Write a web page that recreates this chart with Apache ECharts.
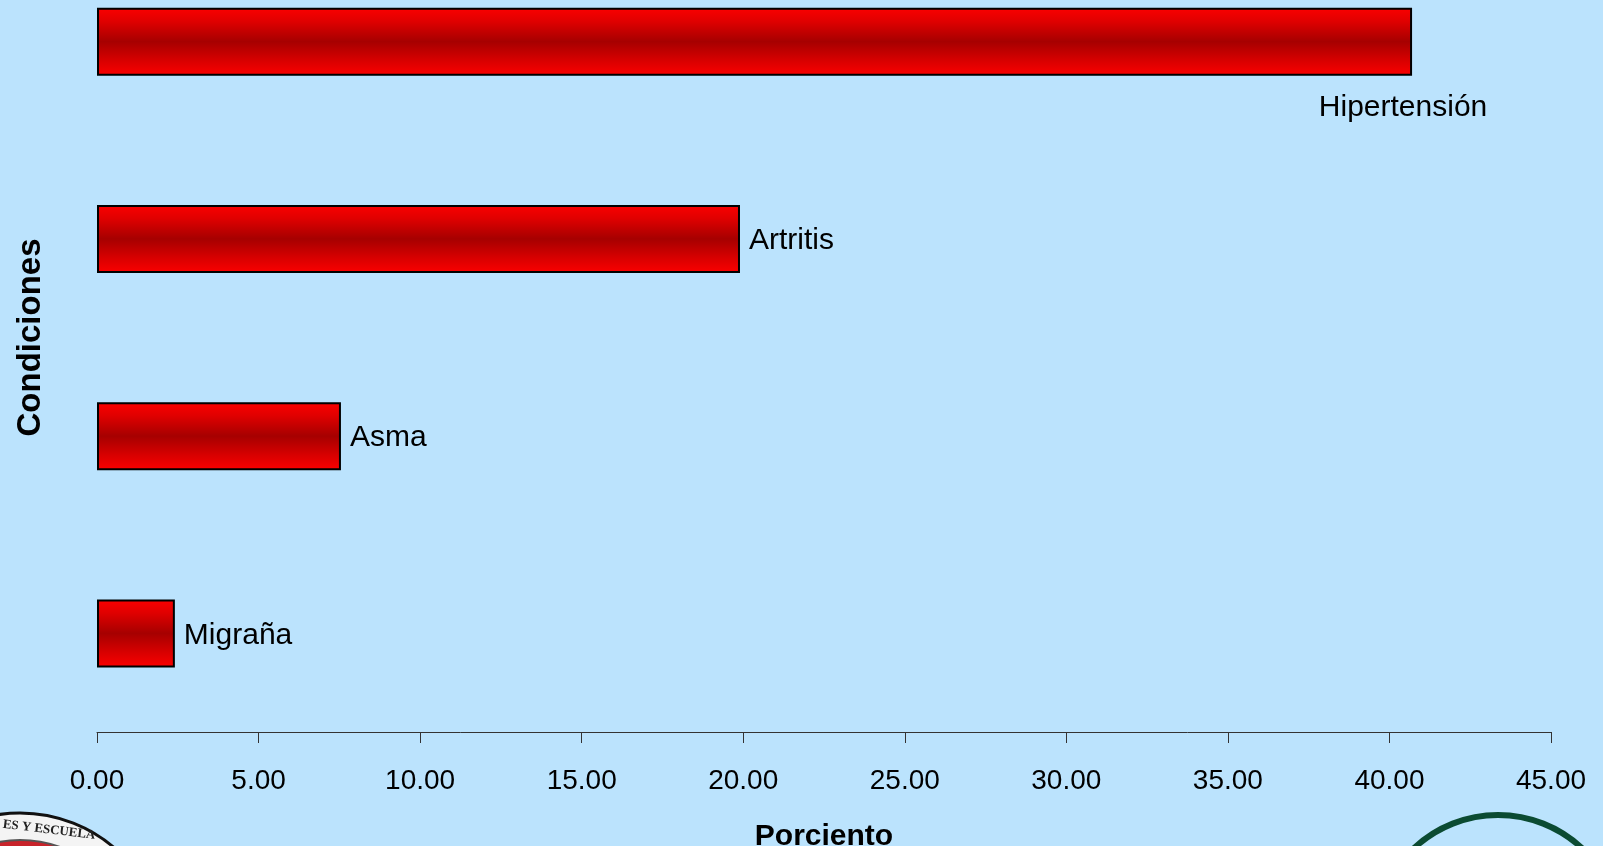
<!DOCTYPE html>
<html>
<head>
<meta charset="utf-8">
<title>Condiciones</title>
<script src="https://cdn.jsdelivr.net/npm/echarts@6/dist/echarts.min.js"></script>
<style>
    html, body { margin: 0; padding: 0; background: #bbe3fd; }
    #J_chart { width: 1603px; height: 846px; }
</style>
</head>
<body>
<div id="J_chart"></div>
<script>
// datos
var condiciones = ['Hipertensión', 'Artritis', 'Asma', 'Migraña'];
var porcientos = [40.7, 19.9, 7.55, 2.41];
var ejeMin = 0;
var ejeMax = 45;
var ejeIntervalo = 5;

var BarrasChart = function(cfg){
    var chart = {
        init: function(){
            this.divId = cfg.divId;
            this.chartInstent = echarts.init(document.getElementById(this.divId));
            this.formatChartData();
            this.configOption();
            this.renderCharts();
        },
        formatChartData: function(){
            var data = [];
            for (var i = 0; i < condiciones.length; i++) {
                var item = { value: porcientos[i] };
                if (i === 0) {
                    // la etiqueta de Hipertensión queda debajo del extremo de la barra
                    item.label = {
                        position: ['100%', '100%'],
                        align: 'center',
                        verticalAlign: 'middle',
                        offset: [-9, 32],
                        distance: 0
                    };
                }
                data.push(item);
            }
            this.chartData = data;
        },
        configOption: function(){
            var fuente = '"Liberation Sans", Arial, sans-serif';
            this.option = {
                backgroundColor: '#bbe3fd',
                animation: false,
                grid: {
                    left: 97,
                    right: 52,
                    top: -57,
                    bottom: 114,
                    containLabel: false,
                    outerBoundsMode: 'none'
                },
                xAxis: {
                    type: 'value',
                    min: ejeMin,
                    max: ejeMax,
                    interval: ejeIntervalo,
                    name: 'Porciento',
                    nameLocation: 'middle',
                    nameGap: 90,
                    nameTextStyle: {
                        fontFamily: fuente,
                        fontSize: 30,
                        fontWeight: 'bold',
                        color: '#000'
                    },
                    axisLine: {
                        show: true,
                        lineStyle: { color: '#333', width: 1 }
                    },
                    axisTick: {
                        show: true,
                        length: 11,
                        lineStyle: { color: '#333' }
                    },
                    axisLabel: {
                        margin: 35,
                        fontFamily: fuente,
                        fontSize: 28,
                        color: '#000',
                        formatter: function(v){ return v.toFixed(2); }
                    },
                    splitLine: { show: false }
                },
                yAxis: {
                    type: 'category',
                    inverse: true,
                    data: condiciones,
                    name: 'Condiciones',
                    nameLocation: 'middle',
                    nameGap: 50,
                    nameRotate: 90,
                    nameTextStyle: {
                        fontFamily: fuente,
                        fontSize: 33,
                        fontWeight: 'bold',
                        color: '#000'
                    },
                    axisLine: { show: false },
                    axisTick: { show: false },
                    axisLabel: { show: false },
                    splitLine: { show: false }
                },
                series: [
                    {
                        name: 'Porciento',
                        type: 'bar',
                        barWidth: 68,
                        itemStyle: {
                            borderColor: '#000',
                            borderWidth: 2,
                            color: new echarts.graphic.LinearGradient(0, 0, 0, 1, [
                                { offset: 0, color: '#fb0000' },
                                { offset: 0.2, color: '#e00000' },
                                { offset: 0.5, color: '#a60000' },
                                { offset: 0.78, color: '#d80000' },
                                { offset: 1, color: '#fb0000' }
                            ])
                        },
                        label: {
                            show: true,
                            position: 'right',
                            distance: 9,
                            offset: [0, 2],
                            fontFamily: fuente,
                            fontSize: 30,
                            color: '#000',
                            formatter: function(p){ return p.name; }
                        },
                        data: this.chartData
                    }
                ],
                // sellos de las esquinas inferiores
                graphic: [
                    {
                        type: 'circle',
                        shape: { cx: 20, cy: 958, r: 145 },
                        style: { fill: '#f4f4f4', stroke: '#111', lineWidth: 3 }
                    },
                    {
                        type: 'circle',
                        shape: { cx: 20, cy: 958, r: 118 },
                        style: { fill: '#c8232a', stroke: '#555', lineWidth: 2 }
                    },
                    {
                        type: 'text',
                        left: 2,
                        top: 818,
                        rotation: -0.12,
                        style: {
                            text: 'ES Y ESCUELA',
                            font: 'bold 13px "Liberation Serif", serif',
                            fill: '#222'
                        }
                    },
                    {
                        type: 'circle',
                        shape: { cx: 1498, cy: 938, r: 123 },
                        style: { fill: 'none', stroke: '#0b4b32', lineWidth: 6 }
                    }
                ]
            };
        },
        renderCharts: function(){
            this.chartInstent.setOption(this.option);
        }
    };
    return chart;
};

(function(){
    var barras = new BarrasChart({ divId: 'J_chart' });
    barras.init();
})();
</script>
</body>
</html>
